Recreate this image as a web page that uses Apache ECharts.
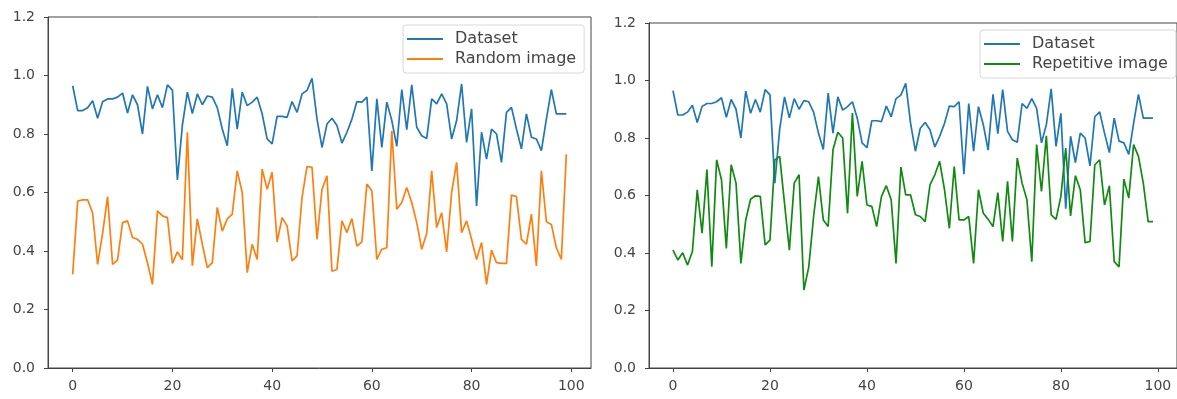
<!DOCTYPE html>
<html>
<head>
<meta charset="utf-8">
<script src="https://cdn.jsdelivr.net/npm/echarts@6/dist/echarts.min.js"></script>
<style>
  html, body { margin: 0; padding: 0; background: #fff; }
  #chart { width: 1177px; height: 399px; }
</style>
</head>
<body>
<div id="chart"></div>
<script>
// values, index 0..99
var dataset = [
  0.965, 0.88, 0.88, 0.89, 0.914, 0.854, 0.91, 0.92, 0.92, 0.926,
  0.94, 0.872, 0.934, 0.90, 0.80, 0.963, 0.886, 0.934, 0.89, 0.968,
  0.95, 0.643, 0.83, 0.943, 0.87, 0.937, 0.90, 0.93, 0.926, 0.89,
  0.817, 0.76, 0.956, 0.817, 0.943, 0.897, 0.909, 0.926, 0.869, 0.783,
  0.766, 0.86, 0.86, 0.857, 0.911, 0.874, 0.937, 0.949, 0.99, 0.851,
  0.754, 0.834, 0.854, 0.829, 0.769, 0.806, 0.851, 0.911, 0.909, 0.926,
  0.674, 0.92, 0.754, 0.909, 0.846, 0.758, 0.952, 0.815, 0.968, 0.823,
  0.794, 0.785, 0.92, 0.903, 0.937, 0.903, 0.783, 0.846, 0.971, 0.771,
  0.886, 0.554, 0.806, 0.714, 0.817, 0.80, 0.703, 0.874, 0.891, 0.817,
  0.749, 0.869, 0.789, 0.783, 0.743, 0.851, 0.952, 0.869, 0.869, 0.869
];
var randomImage = [
  0.32, 0.571, 0.575, 0.575, 0.53, 0.354, 0.46, 0.586, 0.354, 0.37,
  0.497, 0.503, 0.446, 0.44, 0.423, 0.36, 0.286, 0.537, 0.52, 0.514,
  0.358, 0.397, 0.37, 0.806, 0.35, 0.51, 0.423, 0.343, 0.36, 0.549,
  0.468, 0.51, 0.526, 0.674, 0.60, 0.326, 0.423, 0.371, 0.68, 0.611,
  0.669, 0.431, 0.514, 0.486, 0.366, 0.383, 0.583, 0.689, 0.686, 0.44,
  0.611, 0.657, 0.331, 0.337, 0.503, 0.463, 0.511, 0.417, 0.431, 0.629,
  0.606, 0.371, 0.406, 0.411, 0.811, 0.543, 0.566, 0.617, 0.566, 0.497,
  0.406, 0.46, 0.674, 0.48, 0.531, 0.397, 0.60, 0.703, 0.463, 0.503,
  0.44, 0.371, 0.429, 0.286, 0.403, 0.36, 0.358, 0.358, 0.591, 0.586,
  0.44, 0.423, 0.526, 0.349, 0.674, 0.50, 0.491, 0.411, 0.371, 0.731
];
var repetitiveImage = [
  0.41, 0.376, 0.401, 0.358, 0.405, 0.62, 0.469, 0.69, 0.352, 0.724,
  0.655, 0.416, 0.707, 0.643, 0.364, 0.515, 0.587, 0.599, 0.597, 0.428,
  0.445, 0.724, 0.736, 0.573, 0.41, 0.643, 0.672, 0.271, 0.352, 0.527,
  0.666, 0.515, 0.492, 0.759, 0.82, 0.80, 0.538, 0.887, 0.597, 0.719,
  0.567, 0.562, 0.492, 0.597, 0.634, 0.585, 0.364, 0.699, 0.602, 0.602,
  0.533, 0.527, 0.509, 0.637, 0.672, 0.719, 0.62, 0.486, 0.701, 0.515,
  0.515, 0.527, 0.364, 0.62, 0.538, 0.517, 0.492, 0.61, 0.44, 0.649,
  0.44, 0.73, 0.643, 0.585, 0.37, 0.777, 0.614, 0.808, 0.533, 0.517,
  0.597, 0.765, 0.529, 0.669, 0.62, 0.436, 0.44, 0.707, 0.724, 0.567,
  0.634, 0.37, 0.352, 0.657, 0.591, 0.777, 0.736, 0.643, 0.509, 0.509
];
var xTicks = [0, 20, 40, 60, 80, 100];
var yTicks = [0, 0.2, 0.4, 0.6, 0.8, 1.0, 1.2];

function pairs(arr) {
  return arr.map(function (v, i) { return [i, v]; });
}

var axisColor = "#444";
var labelStyle = { fontFamily: "DejaVu Sans", fontSize: 14, color: "#444" };

function xAxisFor(gridIndex) {
  return {
    type: "value",
    gridIndex: gridIndex,
    min: -4.95,
    max: 103.95,
    splitLine: { show: false },
    axisLine: { onZero: false, lineStyle: { color: axisColor, width: 1 } },
    axisTick: { inside: false, length: 4, customValues: xTicks, lineStyle: { color: axisColor } },
    axisLabel: Object.assign({ customValues: xTicks, margin: 11 }, labelStyle),
  };
}

function yAxisFor(gridIndex) {
  return {
    type: "value",
    gridIndex: gridIndex,
    min: 0,
    max: 1.2,
    interval: 0.2,
    splitLine: { show: false },
    axisLine: { show: true, onZero: false, lineStyle: { color: axisColor, width: 1 } },
    axisTick: { show: true, inside: false, length: 4, customValues: yTicks, lineStyle: { color: axisColor } },
    axisLabel: Object.assign({
      customValues: yTicks,
      margin: 13,
      formatter: function (v) { return v.toFixed(1); },
    }, labelStyle),
  };
}

function lineSeries(name, data, color, idx) {
  return {
    name: name,
    type: "line",
    xAxisIndex: idx,
    yAxisIndex: idx,
    data: pairs(data),
    symbol: "none",
    smooth: false,
    lineStyle: { color: color, width: 1.7 },
    itemStyle: { color: color },
    animation: false,
  };
}

var legendBase = {
  orient: "vertical",
  icon: "rect",
  itemWidth: 36,
  itemHeight: 2,
  itemGap: 4,
  padding: [6, 8, 6, 4],
  borderColor: "#d8d8d8",
  borderWidth: 1,
  borderRadius: 3,
  backgroundColor: "rgba(255,255,255,0.8)",
  textStyle: { fontFamily: "DejaVu Sans", fontSize: 16, color: "#444", padding: [0, 0, 0, 7] },
};

var chart = echarts.init(document.getElementById("chart"));
var option = {
  animation: false,
  grid: [
    { left: 48, top: 17, width: 543, height: 351, show: true, borderColor: axisColor, borderWidth: 1 },
    { left: 649, top: 23, width: 530, height: 345, show: true, borderColor: axisColor, borderWidth: 1 },
  ],
  legend: [
    Object.assign({ left: 403, top: 25, data: ["Dataset", "Random image"] }, legendBase),
    Object.assign({ left: 980, top: 30, data: ["Dataset", "Repetitive image"] }, legendBase),
  ],
  xAxis: [xAxisFor(0), xAxisFor(1)],
  yAxis: [yAxisFor(0), yAxisFor(1)],
  series: [
    lineSeries("Dataset", dataset, "#1f77b4", 0),
    lineSeries("Random image", randomImage, "#ff7f0e", 0),
    lineSeries("Dataset", dataset, "#1f77b4", 1),
    lineSeries("Repetitive image", repetitiveImage, "#108a10", 1),
  ],
};
chart.setOption(option);
</script>
</body>
</html>
